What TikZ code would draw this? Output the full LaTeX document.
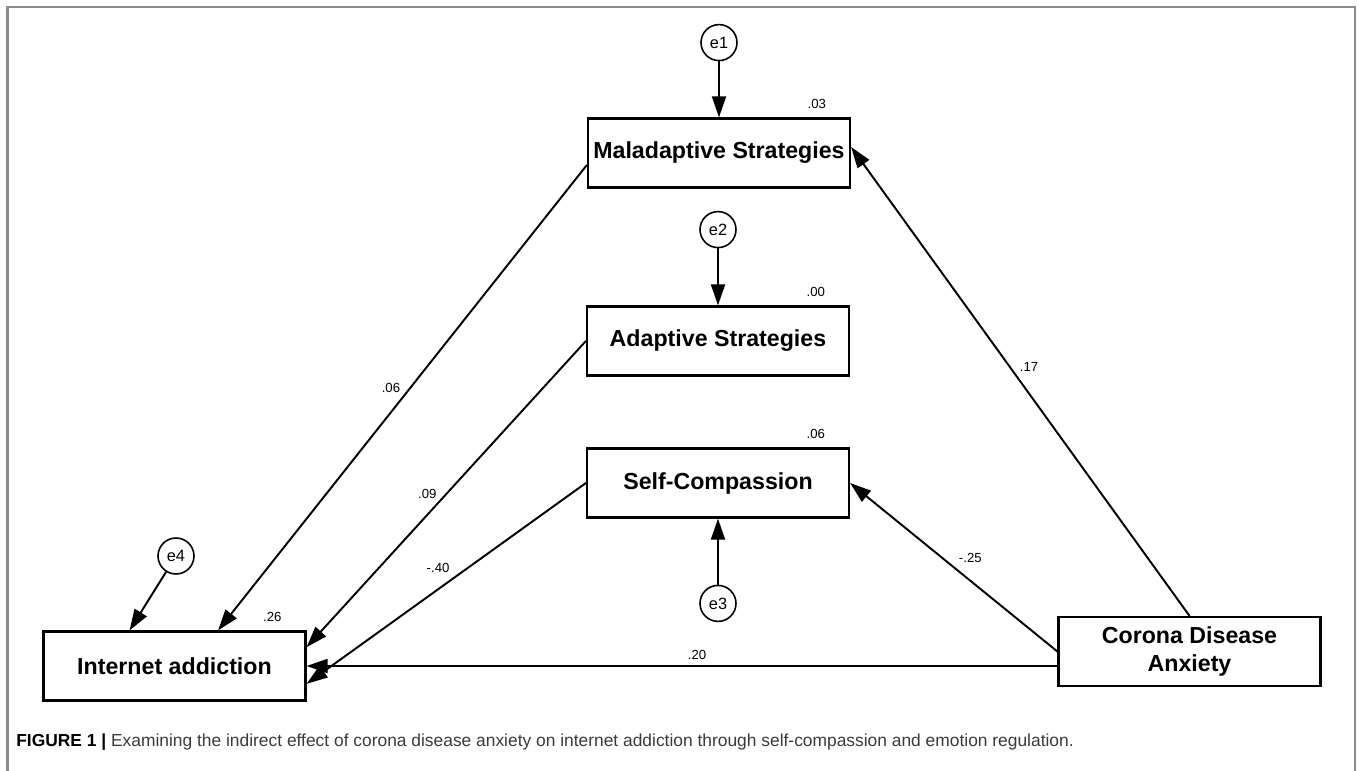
\documentclass[tikz,border=0pt]{standalone}
\usepackage{fontspec}
\setmainfont{Liberation Sans}
\usepackage{xcolor}
\definecolor{frameGray}{HTML}{8C8C8C}
\definecolor{capText}{HTML}{3A3A3A}
\usetikzlibrary{arrows.meta, positioning, calc}
\tikzset{
    var/.style={rectangle, draw, line width=1.3pt, minimum width=5.24cm,
                minimum height=1.38cm, inner sep=0pt, align=center,
                font=\fontsize{13.2}{15.8}\selectfont\bfseries},
    err/.style={circle, draw, line width=0.9pt, minimum size=0.72cm,
                inner sep=0pt, font=\fontsize{9.3}{11}\selectfont},
    reg/.style={-{Triangle[length=12pt, width=8pt]}, line width=1.1pt},
    coef/.style={font=\fontsize{7.5}{9}\selectfont, inner sep=1pt},
    rsq/.style={coef, anchor=base east},
}

\begin{document}
\begin{tikzpicture}[x=0.02cm, y=-0.02cm]
    \useasboundingbox (0,0) rectangle (1360,771);
    \draw[frameGray, line width=1.2pt] (7.5,771) -- (7.5,7) -- (1355,7) -- (1355,771);
    % observed variables
    \node[var] (mal)  at (719,153)     {Maladaptive Strategies};
    \node[var] (ada)  at (718,341)     {Adaptive Strategies};
    \node[var] (self) at (718,483)     {Self-Compassion};
    \node[var] (inet) at (174.5,666)   {Internet addiction};
    \node[var] (cor)  at (1189.5,651.5) {Corona Disease\\Anxiety};
    % error terms
    \node[err, above=1.12cm of mal]  (e1) {e1};
    \node[err, above=1.14cm of ada]  (e2) {e2};
    \node[err, below=1.32cm of self] (e3) {e3};
    \node[err] (e4) at (176,556) {e4};
    % squared multiple correlations
    \node[rsq] (r1) at ($(mal.north east)+(-23,-9)$)  {.03};
    \node[rsq] (r2) at ($(ada.north east)+(-23,-9)$)  {.00};
    \node[rsq] (r3) at ($(self.north east)+(-23,-9)$) {.06};
    \node[rsq] (r4) at ($(inet.north east)+(-23,-9)$) {.26};
    % paths
    \draw[reg] (e1) -- (mal);
    \draw[reg] (e2) -- (ada);
    \draw[reg] (e3) -- (self);
    \draw[reg] (e4) -- ($(inet.north west)!.33!(inet.north east)$);
    \draw[reg] ($(mal.west)+(0,12)$) -- node[coef, pos=.48, left=4pt] {.06}
        ($(inet.north west)!.665!(inet.north east)$);
    \draw[reg] (ada.west) -- node[coef, pos=.5, left=4pt] {.09}
        ($(inet.north east)!.235!(inet.south east)$);
    \draw[reg] (self.west) -- node[coef, pos=.47, above left=2pt] {-.40}
        ($(inet.north east)!.75!(inet.south east)$);
    \draw[reg] (cor.west |- inet.east) -- node[coef, pos=.48, above=2pt] {.20} (inet.east);
    \draw[reg] (cor.west) -- node[coef, pos=.42, above=9pt] {-.25} (self.east);
    \draw[reg] (cor.north) -- node[coef, pos=.53, right=4pt] {.17} ($(mal.east)+(0,-6)$);
    % caption
    \node[anchor=base west, inner sep=0pt, text=capText,
          font=\fontsize{9.9}{12}\selectfont] (cap) at (16,746)
        {\textcolor{black}{\bfseries FIGURE 1 |} Examining the indirect effect of corona disease anxiety on internet addiction through self-compassion and emotion regulation.};
\end{tikzpicture}
\end{document}
